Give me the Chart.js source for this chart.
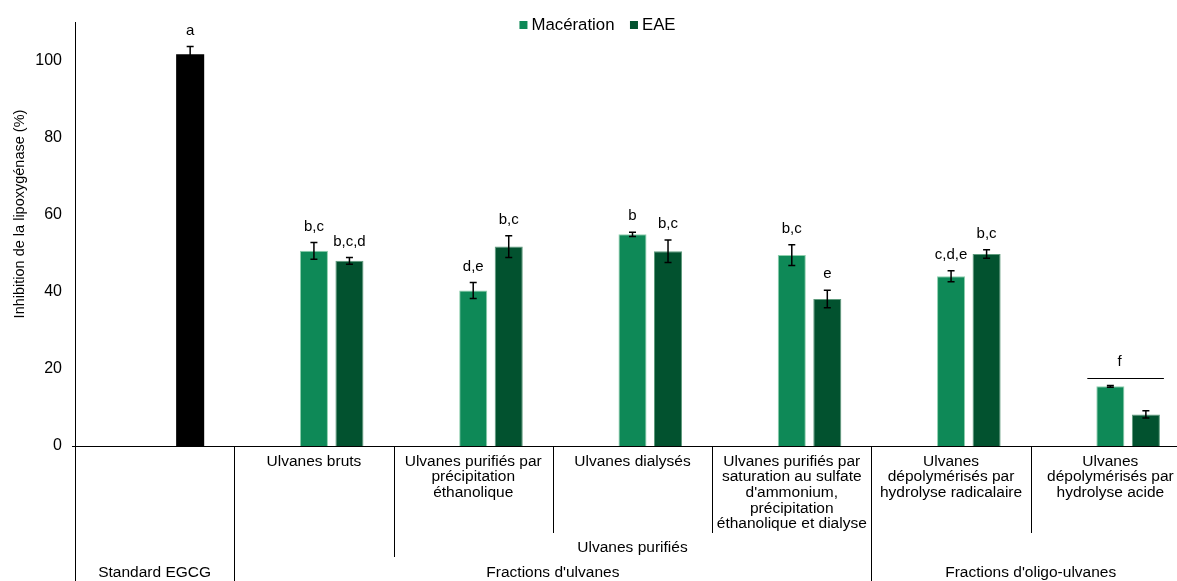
<!DOCTYPE html>
<html>
<head>
<meta charset="utf-8">
<script src="https://cdn.jsdelivr.net/npm/chart.js@4"></script>
<style>
  html, body { margin: 0; padding: 0; background: #fff; overflow: hidden; }
</style>
</head>
<body>
<canvas id="barchart" width="1191" height="581"></canvas>
<script>
const categories = ['Standard EGCG', 'Ulvanes bruts', 'Précipitation éthanolique', 'Ulvanes dialysés',
  'Saturation sulfate d\'ammonium', 'Hydrolyse radicalaire', 'Hydrolyse acide'];
const subLabels = [
  [],
  ['Ulvanes bruts'],
  ['Ulvanes purifiés par', 'précipitation', 'éthanolique'],
  ['Ulvanes dialysés'],
  ['Ulvanes purifiés par', 'saturation au sulfate', 'd\'ammonium,', 'précipitation', 'éthanolique et dialyse'],
  ['Ulvanes', 'dépolymérisés par', 'hydrolyse radicalaire'],
  ['Ulvanes', 'dépolymérisés par', 'hydrolyse acide']
];
const midGroups = [{ label: 'Ulvanes purifiés', from: 2, to: 4 }];
const topGroups = [
  { label: 'Standard EGCG', from: 0, to: 0 },
  { label: 'Fractions d\'ulvanes', from: 1, to: 4 },
  { label: 'Fractions d\'oligo-ulvanes', from: 5, to: 6 }
];

const standard = [101.8, null, null, null, null, null, null];
const standardErr = [2.0, null, null, null, null, null, null];
const standardLetters = ['a', '', '', '', '', '', ''];

const maceration = [null, 50.7, 40.4, 55.0, 49.6, 44.1, 15.5];
const macerationErr = [null, 2.2, 2.1, 0.55, 2.7, 1.45, 0.25];
const macerationLetters = ['', 'b,c', 'd,e', 'b', 'b,c', 'c,d,e', ''];

const eae = [null, 48.1, 51.8, 50.6, 38.2, 49.9, 8.2];
const eaeErr = [null, 0.85, 2.85, 2.9, 2.25, 1.1, 0.95];
const eaeLetters = ['', 'b,c,d', 'b,c', 'b,c', 'e', 'b,c', ''];

// letter shared by both bars of a group, drawn over a line
const groupMarks = [{ index: 6, letter: 'f', level: 17.6 }];

const yTicks = [0, 20, 40, 60, 80, 100];

const FONT = '"Liberation Sans", Arial, Helvetica, sans-serif';
const MAC = '#0e8957';
const EAE = '#02522f';

const errorBars = {
  id: 'errorBars',
  afterDatasetsDraw(chart) {
    const c = chart.ctx, ys = chart.scales.y;
    c.save();
    c.strokeStyle = '#000';
    c.fillStyle = '#000';
    c.lineWidth = 1.5;
    c.font = '15px ' + FONT;
    c.textAlign = 'center';
    c.textBaseline = 'middle';
    chart.data.datasets.forEach((ds, d) => {
      if (!ds.errors) return;
      const meta = chart.getDatasetMeta(d);
      ds.data.forEach((v, i) => {
        if (v == null) return;
        const el = meta.data[i];
        const e = ds.errors[i] || 0;
        const top = ys.getPixelForValue(v + e);
        const bot = ys.getPixelForValue(v - e);
        c.beginPath();
        c.moveTo(el.x, top); c.lineTo(el.x, bot);
        c.moveTo(el.x - 3.5, top); c.lineTo(el.x + 3.5, top);
        c.moveTo(el.x - 3.5, bot); c.lineTo(el.x + 3.5, bot);
        c.stroke();
        const t = ds.letters && ds.letters[i];
        if (t) c.fillText(t, el.x, top - 16);
      });
    });
    // shared letters
    const macMeta = chart.getDatasetMeta(1), eaeMeta = chart.getDatasetMeta(2);
    groupMarks.forEach(g => {
      const a = macMeta.data[g.index], b = eaeMeta.data[g.index];
      const x0 = a.x - a.width / 2 - 9, x1 = b.x + b.width / 2 + 4;
      const y = Math.round(ys.getPixelForValue(g.level)) + 0.5;
      c.lineWidth = 1;
      c.beginPath(); c.moveTo(x0, y); c.lineTo(x1, y); c.stroke();
      c.fillText(g.letter, (x0 + x1) / 2 - 6, y - 17);
    });
    c.restore();
  }
};

const categoryLevels = {
  id: 'categoryLevels',
  afterDraw(chart) {
    const c = chart.ctx, xs = chart.scales.x, area = chart.chartArea;
    const band = xs.getPixelForValue(1) - xs.getPixelForValue(0);
    const edge = k => xs.getPixelForValue(k) - band / 2;
    const H = chart.height;
    c.save();
    c.strokeStyle = '#000';
    c.lineWidth = 1;
    // axis extension
    const ax = Math.round(area.left) + 0.5;
    c.beginPath();
    c.moveTo(ax, area.bottom); c.lineTo(ax, H);
    c.moveTo(area.left - 3, Math.round(area.bottom) + 0.5); c.lineTo(area.left, Math.round(area.bottom) + 0.5);
    c.stroke();
    // separators
    for (let k = 1; k <= categories.length; k++) {
      let depth = 533;
      if (midGroups.some(g => g.from === k || g.to + 1 === k)) depth = 557;
      if (topGroups.some(g => g.from === k || g.to + 1 === k)) depth = H;
      const x = Math.round(edge(k)) + 0.5;
      c.beginPath(); c.moveTo(x, area.bottom); c.lineTo(x, depth); c.stroke();
    }
    c.fillStyle = '#000';
    c.font = '15.5px ' + FONT;
    c.textAlign = 'center';
    c.textBaseline = 'middle';
    subLabels.forEach((lines, i) => {
      const x = xs.getPixelForValue(i);
      lines.forEach((s, j) => c.fillText(s, x, area.bottom + 15.5 + j * 15.6));
    });
    midGroups.forEach(g => c.fillText(g.label, (edge(g.from) + edge(g.to + 1)) / 2, 548));
    topGroups.forEach(g => c.fillText(g.label, (edge(g.from) + edge(g.to + 1)) / 2, 573));
    // y title
    c.save();
    c.translate(19.5, 214);
    c.rotate(-Math.PI / 2);
    c.font = '14.5px ' + FONT;
    c.fillText('Inhibition de la lipoxygénase (%)', 0, 0);
    c.restore();
    // legend
    const items = [{ text: 'Macération', color: MAC }, { text: 'EAE', color: EAE }];
    c.font = '16.8px ' + FONT;
    c.textAlign = 'left';
    const widths = items.map(it => 8 + 4 + c.measureText(it.text).width);
    const total = widths.reduce((a, b) => a + b, 0) + 15.5;
    let lx = chart.width / 2 + 2 - total / 2;
    items.forEach((it, i) => {
      c.fillStyle = it.color;
      c.fillRect(lx, 21, 8, 8);
      c.fillStyle = '#000';
      c.fillText(it.text, lx + 12, 25);
      lx += widths[i] + 15.5;
    });
    c.restore();
  }
};

const ctx = document.getElementById('barchart').getContext('2d');
const barchart = new Chart(ctx, {
  type: 'bar',
  data: {
    labels: categories,
    datasets: [
      { label: '', data: categories.map(() => null), stack: 's0' },
      { label: 'Macération', data: maceration, errors: macerationErr, letters: macerationLetters,
        backgroundColor: MAC, borderColor: '#8fcfae', borderWidth: 1, stack: 's1' },
      { label: 'EAE', data: eae, errors: eaeErr, letters: eaeLetters,
        backgroundColor: EAE, borderColor: '#5e9a7c', borderWidth: 1, stack: 's2' },
      { label: 'Standard EGCG', data: standard, errors: standardErr, letters: standardLetters,
        backgroundColor: '#000', stack: 's2' }
    ]
  },
  options: {
    responsive: false,
    animation: false,
    categoryPercentage: 0.669,
    barPercentage: 0.79,
    layout: { padding: { top: 21, bottom: 135, left: 0, right: 1 } },
    plugins: { legend: { display: false }, tooltip: { enabled: false } },
    scales: {
      x: {
        stacked: true,
        grid: { display: false, drawTicks: false },
        border: { display: true, color: '#000', width: 1 },
        ticks: { display: false }
      },
      y: {
        stacked: false,
        min: 0,
        max: 110,
        afterBuildTicks: s => { s.ticks = yTicks.map(v => ({ value: v })); },
        afterFit: s => { s.width = 75; },
        grid: { display: false, drawTicks: false },
        border: { display: true, color: '#000', width: 1 },
        ticks: { padding: 13, color: '#000', font: { family: FONT, size: 16 } }
      }
    }
  },
  plugins: [errorBars, categoryLevels]
});
</script>
</body>
</html>
